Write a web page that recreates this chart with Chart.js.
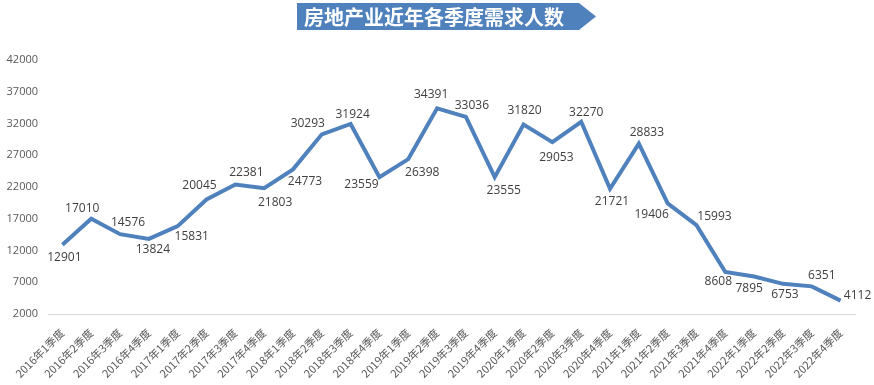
<!DOCTYPE html>
<html>
<head>
<meta charset="utf-8">
<script src="https://cdn.jsdelivr.net/npm/chart.js@4"></script>
<style>
  html, body { margin: 0; padding: 0; background: #ffffff; }
  #wrap { width: 874px; height: 385px; position: relative; }
</style>
</head>
<body>
<div id="wrap"><canvas id="demandChart"></canvas></div>
<script>
// Chart data
const chartTitle = '房地产业近年各季度需求人数';
const quarters = [
    '2016年1季度', '2016年2季度', '2016年3季度', '2016年4季度',
    '2017年1季度', '2017年2季度', '2017年3季度', '2017年4季度',
    '2018年1季度', '2018年2季度', '2018年3季度', '2018年4季度',
    '2019年1季度', '2019年2季度', '2019年3季度', '2019年4季度',
    '2020年1季度', '2020年2季度', '2020年3季度', '2020年4季度',
    '2021年1季度', '2021年2季度', '2021年3季度', '2021年4季度',
    '2022年1季度', '2022年2季度', '2022年3季度', '2022年4季度'
];
const demand = [
    12901, 17010, 14576, 13824,
    15831, 20045, 22381, 21803,
    24773, 30293, 31924, 23559,
    26398, 34391, 33036, 23555,
    31820, 29053, 32270, 21721,
    28833, 19406, 15993, 8608,
    7895, 6753, 6351, 4112
];
const yTicks = [2000, 7000, 12000, 17000, 22000, 27000, 32000, 37000, 42000];

// offset [dx, dy] of each value label from its point (pixels)
const labelOffsets = [
    [2, 13], [-9, -10], [8, -12], [4, 11],
    [14, 10], [-7, -14], [11, -12], [11, 14],
    [12, 12], [-14, -11], [2, -9], [-18, 7],
    [14, 14], [-6, -14], [6, -11], [9, 13],
    [1, -14], [4, 15], [5, -9], [2, 13],
    [8, -11], [-16, 11], [18, -9], [-7, 10],
    [-5, 12], [2, 11], [10, -11], [17, -5]
];

const lineColor = '#4f81bd';

// Blue arrow-shaped title banner
const titleBanner = {
    id: 'titleBanner',
    afterDraw(chart) {
        const ctx = chart.ctx;
        ctx.save();
        ctx.beginPath();
        ctx.moveTo(297, 3);
        ctx.lineTo(579, 3);
        ctx.lineTo(596, 16.5);
        ctx.lineTo(579, 30);
        ctx.lineTo(297, 30);
        ctx.closePath();
        ctx.fillStyle = lineColor;
        ctx.fill();
        ctx.fillStyle = '#ffffff';
        ctx.font = 'bold 20px "Noto Sans CJK SC"';
        ctx.textAlign = 'left';
        ctx.textBaseline = 'middle';
        ctx.fillText(chartTitle, 304, 17);
        ctx.restore();
    }
};

// Value labels next to each point
const valueLabels = {
    id: 'valueLabels',
    afterDatasetsDraw(chart) {
        const ctx = chart.ctx;
        const points = chart.getDatasetMeta(0).data;
        ctx.save();
        ctx.font = '12px "Open Sans", "Noto Sans"';
        ctx.fillStyle = '#404040';
        ctx.textBaseline = 'middle';
        ctx.textAlign = 'center';
        points.forEach((pt, i) => {
            const off = labelOffsets[i];
            ctx.fillText(String(demand[i]), pt.x + off[0], pt.y + off[1]);
        });
        ctx.restore();
    }
};

const ctx = document.getElementById('demandChart').getContext('2d');
const demandChart = new Chart(ctx, {
    type: 'line',
    data: {
        labels: quarters,
        datasets: [{
            label: '需求人数',
            data: demand,
            borderColor: lineColor,
            borderWidth: 4,
            pointRadius: 0,
            tension: 0,
            fill: false
        }]
    },
    options: {
        responsive: true,
        maintainAspectRatio: false,
        animation: false,
        layout: {
            padding: { top: 60, left: 4, right: 19, bottom: 2 }
        },
        scales: {
            x: {
                offset: true,
                grid: { display: false, drawTicks: false },
                border: { display: true, color: '#d9d9d9', width: 1 },
                afterFit: axis => {
                    // let the first rotated label hang to the left, like the original
                    axis.paddingLeft = 0;
                    axis.height = 69;
                },
                ticks: {
                    color: '#595959',
                    autoSkip: false,
                    maxRotation: 45,
                    minRotation: 45,
                    padding: 12,
                    font: { family: '"Noto Sans CJK SC"', size: 11 }
                }
            },
            y: {
                min: 2000,
                max: 42000,
                grid: { display: false, drawTicks: false },
                border: { display: false },
                afterBuildTicks: axis => {
                    axis.ticks = yTicks.map(v => ({ value: v }));
                },
                afterFit: axis => {
                    axis.width = 44;
                },
                ticks: {
                    color: '#595959',
                    padding: 10,
                    callback: value => String(value),
                    font: { family: '"Open Sans", "Noto Sans"', size: 11 }
                }
            }
        },
        plugins: {
            legend: { display: false },
            tooltip: { enabled: false }
        }
    },
    plugins: [titleBanner, valueLabels]
});
</script>
</body>
</html>
